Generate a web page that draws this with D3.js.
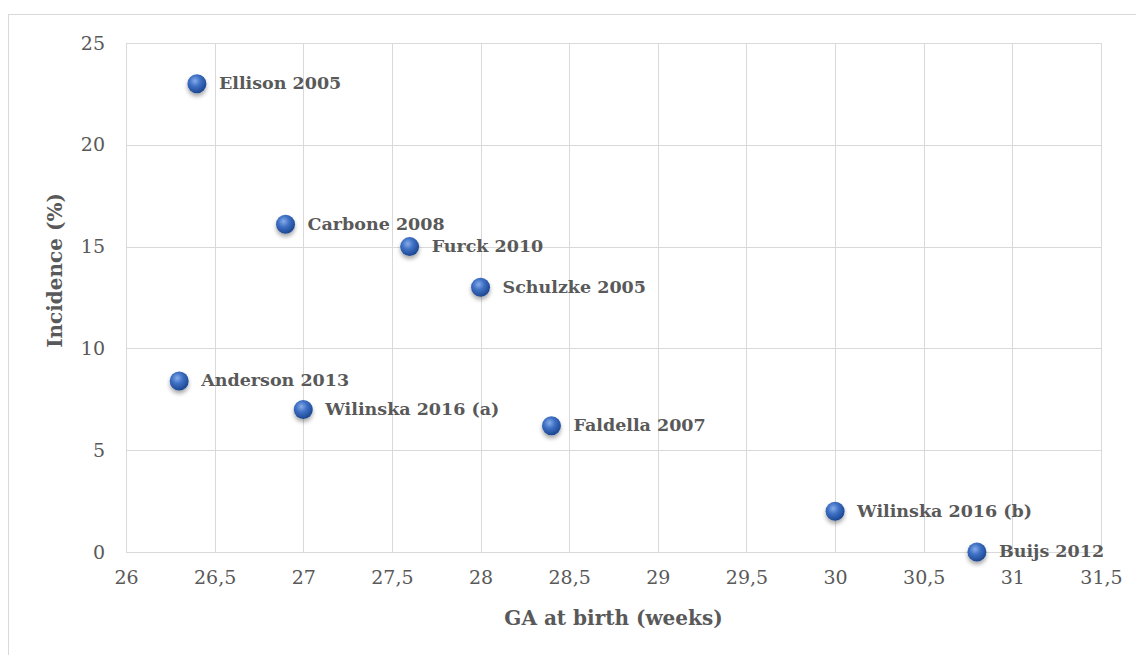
<!DOCTYPE html>
<html>
<head>
<meta charset="utf-8">
<script src="https://cdn.jsdelivr.net/npm/d3@7"></script>
<style>
  body { margin: 0; background: #fff; }
  svg { display: block; }
</style>
</head>
<body>
<svg id="chart" width="1136" height="655"></svg>
<script>
// study labels, gestational age (weeks) and incidence (%)
const studies = ['Ellison 2005', 'Carbone 2008', 'Furck 2010', 'Schulzke 2005', 'Anderson 2013',
  'Wilinska 2016 (a)', 'Faldella 2007', 'Wilinska 2016 (b)', 'Buijs 2012'];
const gaWeeks = [26.4, 26.9, 27.6, 28.0, 26.3, 27.0, 28.4, 30.0, 30.8];
const incidence = [23, 16.1, 15, 13, 8.4, 7, 6.2, 2, 0];
const xTicks = [26, 26.5, 27, 27.5, 28, 28.5, 29, 29.5, 30, 30.5, 31, 31.5];
const yTicks = [0, 5, 10, 15, 20, 25];

const margin = { top: 43, right: 35, bottom: 103, left: 126 };
const width = 1136 - margin.left - margin.right;
const height = 655 - margin.top - margin.bottom;
const gridColor = '#d9d9d9';
const textColor = '#595959';
const font = '"DejaVu Serif", serif';

const svg = d3.select('#chart');

// outer chart frame (runs off the right and bottom edges)
svg.append('rect')
  .attr('x', 8.5).attr('y', 14.5)
  .attr('width', 1300).attr('height', 800)
  .style('fill', 'none')
  .style('stroke', gridColor);

const defs = svg.append('defs');
const grad = defs.append('radialGradient')
  .attr('id', 'ball')
  .attr('cx', '40%').attr('cy', '35%').attr('r', '65%');
grad.append('stop').attr('offset', '0%').attr('stop-color', '#86acea');
grad.append('stop').attr('offset', '45%').attr('stop-color', '#3f70c4');
grad.append('stop').attr('offset', '100%').attr('stop-color', '#1c4791');

const shadow = defs.append('filter')
  .attr('id', 'shadow')
  .attr('x', '-50%').attr('y', '-50%').attr('width', '200%').attr('height', '200%');
shadow.append('feDropShadow')
  .attr('dx', 0).attr('dy', 3).attr('stdDeviation', 2)
  .attr('flood-color', '#000').attr('flood-opacity', 0.35);

const g = svg.append('g')
  .attr('transform', 'translate(' + margin.left + ',' + margin.top + ')');

const x = d3.scaleLinear().domain([26, 31.5]).range([0, width]);
const y = d3.scaleLinear().domain([0, 25]).range([height, 0]);
const fmt = d => String(d).replace('.', ',');

// gridlines
g.append('g')
  .selectAll('line')
  .data(xTicks)
  .enter()
  .append('line')
  .attr('x1', d => Math.round(x(d)) + 0.5).attr('x2', d => Math.round(x(d)) + 0.5)
  .attr('y1', 0).attr('y2', height)
  .style('stroke', gridColor);

g.append('g')
  .selectAll('line')
  .data(yTicks)
  .enter()
  .append('line')
  .attr('x1', 0).attr('x2', width)
  .attr('y1', d => Math.round(y(d)) + 0.5).attr('y2', d => Math.round(y(d)) + 0.5)
  .style('stroke', gridColor);

// axes (labels only)
const xAxis = g.append('g')
  .attr('transform', 'translate(0,' + height + ')')
  .call(d3.axisBottom(x).tickValues(xTicks).tickFormat(fmt).tickSize(0).tickPadding(19));
const yAxis = g.append('g')
  .call(d3.axisLeft(y).tickValues(yTicks).tickSize(0).tickPadding(21));

[xAxis, yAxis].forEach(a => {
  a.select('.domain').remove();
  a.selectAll('text')
    .style('font-family', font)
    .style('font-size', '19px')
    .style('fill', textColor);
});

// axis titles
svg.append('text')
  .attr('x', margin.left + width / 2)
  .attr('y', 625)
  .attr('text-anchor', 'middle')
  .style('font-family', font)
  .style('font-size', '20px')
  .style('font-weight', 'bold')
  .style('fill', textColor)
  .text('GA at birth (weeks)');

svg.append('text')
  .attr('transform', 'translate(62,' + (margin.top + height / 2 - 27) + ') rotate(-90)')
  .attr('text-anchor', 'middle')
  .style('font-family', font)
  .style('font-size', '20px')
  .style('font-weight', 'bold')
  .style('fill', textColor)
  .text('Incidence (%)');

// points
const idx = d3.range(studies.length);

g.append('g')
  .selectAll('circle')
  .data(idx)
  .enter()
  .append('circle')
  .attr('cx', i => x(gaWeeks[i]))
  .attr('cy', i => y(incidence[i]))
  .attr('r', 9.5)
  .attr('filter', 'url(#shadow)')
  .style('fill', 'url(#ball)');

// data labels
g.append('g')
  .selectAll('text')
  .data(idx)
  .enter()
  .append('text')
  .attr('x', i => x(gaWeeks[i]) + 22)
  .attr('y', i => y(incidence[i]) - 1)
  .attr('dy', '0.36em')
  .style('font-family', font)
  .style('font-size', '17.5px')
  .style('font-weight', 'bold')
  .style('fill', textColor)
  .text(i => studies[i]);
</script>
</body>
</html>
